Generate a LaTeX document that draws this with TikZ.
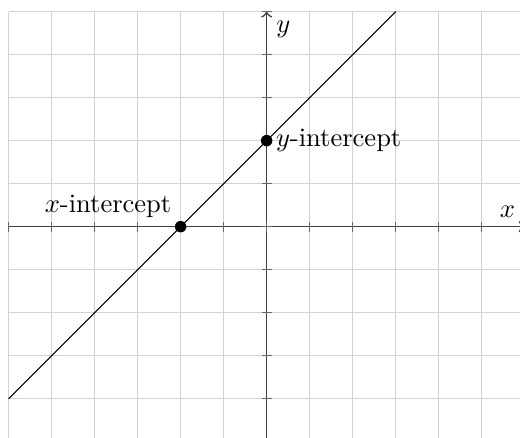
\documentclass[tikz,border=0pt]{standalone}
\usepackage{amsmath}
\usepackage{tikz}

\begin{document}
\begin{tikzpicture}[scale=0.57]
    % Visible window
    \path[use as bounding box, clip] (-6.2,-4.91) rectangle (5.89,5.27);

    % Grid
    \draw[gray!35, line width=0.5pt] (-6,-5) grid (6,5);

    % Axes
    \draw[->, black!75, line width=0.6pt] (-6,0) -- (6,0) node[above left, black] (xlabel) {$x$};
    \draw[->, black!75, line width=0.6pt] (0,-5) -- (0,5) node[below right, black] (ylabel) {$y$};

    % Ticks
    \foreach \i in {-6,...,6}
        \draw[black!60] (\i,-0.12) -- (\i,0.12);
    \foreach \i in {-5,...,5}
        \draw[black!60] (-0.12,\i) -- (0.12,\i);

    % Line
    \coordinate (A) at (-6,-4);
    \coordinate (B) at (3,5);
    \draw[black] (A) -- (B);

    % Intercepts
    \coordinate (Xint) at (-2,0);
    \coordinate (Yint) at (0,2);
    \fill[black] (Xint) circle (3.8pt) node[above left] (xint) {$x$-intercept};
    \fill[black] (Yint) circle (3.8pt) node[right] (yint) {$y$-intercept};
\end{tikzpicture}
\end{document}
